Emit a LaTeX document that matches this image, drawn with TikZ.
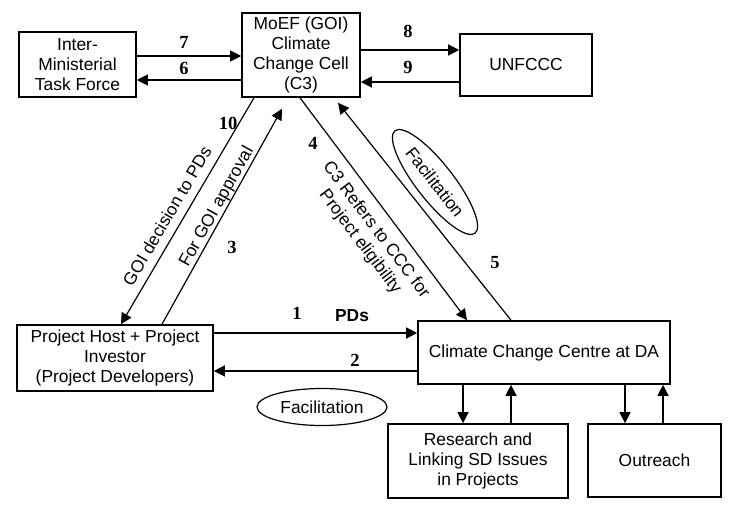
\documentclass[tikz,border=0pt]{standalone}
\usepackage{fontspec}
\setmainfont{Liberation Sans}
\newfontfamily\numfont{Liberation Serif}
\usetikzlibrary{arrows.meta,shapes.geometric,calc}
\begin{document}
\begin{tikzpicture}[x=1pt,y=-1pt,
  box/.style={draw,line width=1.6pt,rectangle,inner sep=0pt,align=center,font=\fontsize{17.4}{20}\selectfont},
  arr/.style={line width=1.2pt,-{Triangle[length=11pt,width=11pt]}},
  num/.style={font=\numfont\bfseries\fontsize{18.5}{18}\selectfont,inner sep=0pt},
  oval/.style={draw,ellipse,line width=1.2pt,minimum width=130pt,minimum height=37pt,inner sep=0pt,font=\fontsize{17.4}{20}\selectfont},
  lbl/.style={font=\fontsize{17.4}{20}\selectfont,inner sep=0pt,align=center}]
\useasboundingbox (0,0) rectangle (735,508);
\fill[white] (0,0) rectangle (735,508);
% boxes
\node[box,minimum width=117pt,minimum height=65pt] (imtf) at (77.5,64.5) {Inter-\\Ministerial\\Task Force};
\node[box,minimum width=118pt,minimum height=84pt] (c3) at (301,55) {MoEF (GOI)\\Climate\\Change Cell\\(C3)};
\node[box,minimum width=132pt,minimum height=62pt] (un) at (526,65) {UNFCCC};
\node[box,minimum width=196pt,minimum height=66pt] (ph) at (115,358) {Project Host + Project\\Investor\\(Project Developers)};
\node[box,minimum width=252pt,minimum height=63pt] (ccc) at (544,352.5) {Climate Change Centre at DA};
\node[box,minimum width=180pt,minimum height=74pt] (res) at (478,461) {Research and\\Linking SD Issues\\in Projects};
\node[box,minimum width=133pt,minimum height=73pt] (out) at (654.5,460.5) {Outreach};
% horizontal arrows
\draw[arr] ([yshift=8.5pt]imtf.east) -- ([yshift=8.5pt]imtf.east -| c3.west);
\draw[arr] ([yshift=-15.5pt]imtf.east -| c3.west) -- ([yshift=-15.5pt]imtf.east);
\draw[arr] ([yshift=5pt]c3.east) -- ([yshift=5pt]c3.east -| un.west);
\draw[arr] ([yshift=-27pt]c3.east -| un.west) -- ([yshift=-27pt]c3.east);
\draw[arr] ([yshift=25pt]ph.east) -- ([yshift=25pt]ph.east -| ccc.west);
\draw[arr] ([yshift=-13pt]ph.east -| ccc.west) -- ([yshift=-13pt]ph.east);
% diagonals
\draw[arr] ([xshift=-47pt]c3.south) -- ([xshift=6pt]ph.north);
\draw[arr] ([xshift=47pt]ph.north) -- ([xshift=-19pt,yshift=-11pt]c3.south);
\draw[arr] ([xshift=-1pt]c3.south) -- ([xshift=-77pt]ccc.north);
\draw[arr] ([xshift=-33pt]ccc.north) -- ([xshift=37pt,yshift=-5pt]c3.south);
% verticals
\draw[arr] ([xshift=-81pt]ccc.south) -- ([xshift=-81pt]ccc.south |- res.north);
\draw[arr] ([xshift=-33pt]ccc.south |- res.north) -- ([xshift=-33pt]ccc.south);
\draw[arr] ([xshift=81pt]ccc.south) -- ([xshift=81pt]ccc.south |- out.north);
\draw[arr] ([xshift=119pt]ccc.south |- out.north) -- ([xshift=119pt]ccc.south);
% numbers
\node[num] (n7) at (184,42) {7};
\node[num] (n6) at (184,68) {6};
\node[num] (n8) at (408,31) {8};
\node[num] (n9) at (408,67) {9};
\node[num] (n10) at (228,123) {10};
\node[num] (n3) at (232,247) {3};
\node[num] (n4) at (313,143) {4};
\node[num] (n5) at (495,263) {5};
\node[num] (n1) at (297,313) {1};
\node[num] (n2) at (355,360) {2};
\node[lbl,font=\bfseries\fontsize{17.4}{20}\selectfont] (pds) at (352,316) {PDs};
% rotated labels
\node[lbl,rotate=59.6] (t10) at (167,216) {GOI decision to PDs};
\node[lbl,rotate=60.8] (t3) at (217,207) {For GOI approval};
\node[lbl,rotate=-53] (t4) at (368,236) {C3 Refers to CCC for\\Project eligibility};
\node[oval,rotate=-52] (f1) at (435,182) {Facilitation};
\node[oval] (f2) at (322,407) {Facilitation};
\end{tikzpicture}
\end{document}
